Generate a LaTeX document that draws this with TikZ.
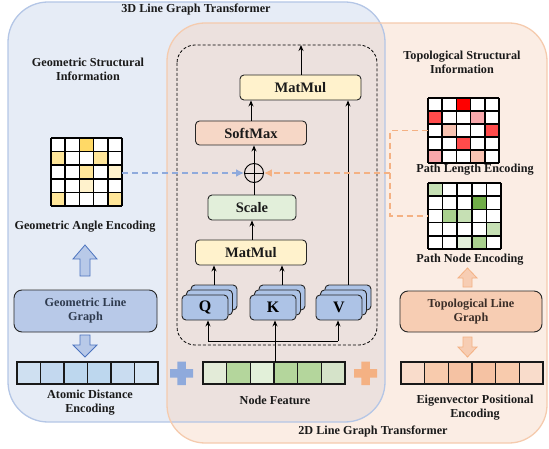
\documentclass[tikz,border=0pt]{standalone}
\usepackage{fontspec}
\setmainfont{Liberation Serif}
\usetikzlibrary{arrows.meta}
\definecolor{bluebg}{HTML}{E6ECF6}
\definecolor{orangebg}{HTML}{FBEDE4}
\definecolor{mixbg}{HTML}{ECE1DE}
\definecolor{blueedge}{HTML}{B4C6E6}
\definecolor{orangeedge}{HTML}{F5CBAE}
\definecolor{qkvfill}{HTML}{ADC3E6}
\definecolor{yel}{HTML}{FFF2CC}
\definecolor{soft}{HTML}{F6D7C6}
\definecolor{scalef}{HTML}{E2EFDA}
\definecolor{bdash}{HTML}{8FAADC}
\definecolor{odash}{HTML}{F4B183}
\definecolor{glgfill}{HTML}{B8C9E8}
\definecolor{tlgfill}{HTML}{F7CDB3}
\definecolor{txt}{HTML}{1A1A1A}
\definecolor{darkblue}{HTML}{4A72BE}
\definecolor{glgtxt}{HTML}{2F3B4F}
\definecolor{tlgtxt}{HTML}{3B2E28}
\definecolor{nfa}{HTML}{E3EBD8}
\definecolor{nfb}{HTML}{B4D69C}
\definecolor{nfc}{HTML}{E2F0D9}
\definecolor{nfd}{HTML}{D5E3C9}
\definecolor{gga}{HTML}{FFD966}
\definecolor{ggb}{HTML}{FFE699}
\definecolor{ggc}{HTML}{FFF2CC}
\definecolor{ada}{HTML}{CFE0F1}
\definecolor{adb}{HTML}{C3D8EF}
\definecolor{adc}{HTML}{BDD7EE}
\definecolor{add}{HTML}{C9DCF0}
\definecolor{ade}{HTML}{D5E4F3}
\definecolor{pla}{HTML}{FF0000}
\definecolor{plb}{HTML}{FF4B4B}
\definecolor{plc}{HTML}{F8A7AB}
\definecolor{pld}{HTML}{F8C3B2}
\definecolor{pna}{HTML}{C6E0B4}
\definecolor{pnb}{HTML}{70AD47}
\definecolor{pnc}{HTML}{A9D18E}
\definecolor{pnd}{HTML}{E2EFDA}
\definecolor{eva}{HTML}{F9DCCB}
\definecolor{evb}{HTML}{F8CBAD}
\definecolor{evc}{HTML}{F5C2A3}
\newcommand{\mygrid}[6]{%
  \fill[white] (#1,#2) rectangle ++(5*#3,5*#4);
  \foreach \r/\c/\cc in {#6} {\fill[fill=\cc] ({#1+(\c-1)*#3},{#2+(\r-1)*#4}) rectangle ++(#3,#4);}
  \foreach \i in {0,...,5} {\draw[gridline] ({#1+\i*#3},#2) -- ++(0,5*#4); \draw[gridline] (#1,{#2+\i*#4}) -- ++(5*#3,0);}
  \node[inner sep=0pt, minimum width=5*#3, minimum height=5*#4, anchor=north west] (#5) at (#1,#2) {};
}
\newcommand{\mybar}[6]{%
  \foreach \cc [count=\i from 0] in {#6} {\draw[barcell, fill=\cc] ({#1+\i*#3},#2) rectangle ++(#3,#4);}
  \node[inner sep=0pt, minimum width=6*#3, minimum height=#4, anchor=north west] (#5) at (#1,#2) {};
}
\newcommand{\qkvstack}[4]{%
  \draw[qkvbox] ({#2-23+9},{#3-12.5-10}) rectangle ++(46,25);
  \draw[qkvbox] ({#2-23+4.5},{#3-12.5-5}) rectangle ++(46,25);
  \node[qkvbox, minimum width=46, minimum height=25, font=\bfseries\fontsize{16}{18}\selectfont] (#1) at (#2,#3) {#4};
  \coordinate (#1top) at ({#2+9},{#3-22.5});
}
\tikzset{
  gridline/.style={black, line width=1.7pt},
  barcell/.style={draw=black!90, line width=1.4pt},
  qkvbox/.style={draw=black!85, fill=qkvfill, line width=0.9pt, rounded corners=4pt, inner sep=0pt},
  opbox/.style={draw=black!85, line width=0.9pt, rounded corners=4pt, inner sep=0pt, minimum height=25, font=\bfseries\fontsize{14.5}{16}\selectfont, text=txt},
  lbl/.style={font=\bfseries\fontsize{12.2}{14}\selectfont, align=center, text=txt, inner sep=0pt},
  arr/.style={-{Stealth[length=6pt,width=5pt]}, line width=0.9pt, black},
  bluebarrow/.style={fill=glgfill, draw=darkblue, line width=0.8pt},
  orgbarrow/.style={fill=tlgfill, draw=odash, line width=0.8pt},
}
\begin{document}
\begin{tikzpicture}[x=1pt,y=-1pt]
\useasboundingbox (0,0) rectangle (549,449);
% regions
\fill[bluebg] (8,2) [rounded corners=40pt] rectangle (385,422);
\fill[orangebg] (167,23) [rounded corners=38pt] rectangle (547,443);
\begin{scope}
\clip (8,2) [rounded corners=40pt] rectangle (385,422);
\fill[mixbg] (167,23) [rounded corners=38pt] rectangle (547,443);
\end{scope}
\draw[blueedge, line width=1.3pt] (8,2) [rounded corners=40pt] rectangle (385,422);
\draw[orangeedge, line width=1.3pt] (167,23) [rounded corners=38pt] rectangle (547,443);
% titles
\node[lbl] (t3d) at (196,10) {3D Line Graph Transformer};
\node[lbl] (t2d) at (373,432) {2D Line Graph Transformer};
% dashed attention box
\draw[black, line width=0.8pt, dash pattern=on 3pt off 2pt] (177,45) [rounded corners=18pt] rectangle (377,345);
\coordinate (dtop) at (301,45);
% operation boxes
\node[opbox, fill=yel, minimum width=121] (mm1) at (300.5,87.5) {MatMul};
\node[opbox, fill=soft, minimum width=111, minimum height=24] (sm) at (251,133) {SoftMax};
\node[draw=black, line width=0.9pt, circle, minimum size=19, inner sep=0pt] (ox) at (254,173) {};
\draw[line width=0.9pt] (ox.north) -- (ox.south) (ox.west) -- (ox.east);
\node[opbox, fill=scalef, minimum width=88] (sc) at (252,207.5) {Scale};
\node[opbox, fill=yel, minimum width=111] (mm2) at (251,252.5) {MatMul};
% QKV
\qkvstack{q}{205}{307.5}{Q}
\qkvstack{k}{273}{307.5}{K}
\qkvstack{v}{339}{307.5}{V}
% arrows inside
\draw[arr] (mm1.north -| dtop) -- (dtop);
\draw[arr] (sm.north) -- (sm.north |- mm1.south);
\draw[arr] (ox.north) -- (ox.north |- sm.south);
\draw[line width=0.9pt] (sc.north -| ox.south) -- (ox.south);
\draw[arr] (mm2.north -| sc.south) -- (sc.south);
\draw[arr] (qtop) -- (qtop |- mm2.south);
\draw[arr] (ktop) -- (ktop |- mm2.south);
\draw[arr] (vtop) -- (vtop |- mm1.south);
% node feature bar
\mybar{203}{362}{23.67}{22}{nf}{nfa,nfb,nfc,nfb,nfb,nfd}
\coordinate (split) at (275,341);
\coordinate (qin) at (208,341);
\coordinate (vin) at (338,341);
\draw[line width=0.9pt] (nf.north -| split) -- (split);
\draw[line width=0.9pt] (qin) -- (vin);
\draw[arr] (qin) -- (qin |- q.south);
\draw[arr] (split) -- (split |- k.south);
\draw[arr] (vin) -- (vin |- v.south);
\node[lbl] (nflbl) at (275,400) {Node Feature};
% plus signs
\fill[bdash] (170,369) rectangle (193,377.5) (177.25,361.5) rectangle (185.75,385);
\fill[odash] (354,369) rectangle (377,377.5) (361.25,361.5) rectangle (369.75,385);
% left side
\node[lbl] (gsi) at (88,69) {Geometric Structural\\Information};
\mygrid{51}{138}{14.2}{13.6}{gg}{1/3/gga,2/1/ggb,2/4/ggb,3/3/ggb,3/5/ggc,4/3/ggc,5/1/ggb,5/5/ggb}
\draw[bdash, line width=1.6pt, dash pattern=on 6pt off 4pt, -{Latex[length=8pt,width=8pt]}] (gg.east |- ox.west) -- (ox.west);
\node[lbl] (gae) at (85,227) {Geometric Angle Encoding};
\draw[bluebarrow] (85,245) -- (97,259) -- (90,259) -- (90,276) -- (80,276) -- (80,259) -- (73,259) -- cycle;
\node[draw=black!85, line width=0.9pt, rounded corners=8pt, fill=glgfill, minimum width=143, minimum height=42, lbl, text=glgtxt] (glg) at (85.5,311) {Geometric Line\\Graph};
\draw[bluebarrow] (80,335) -- (90,335) -- (90,345) -- (97,345) -- (85,357) -- (73,345) -- (80,345) -- cycle;
\mybar{17}{362}{23.5}{22}{ad}{ada,adb,adc,adc,add,ade}
\node[lbl] (adl) at (90,403) {Atomic Distance\\Encoding};
% right side
\node[lbl] (tsi) at (462,62) {Topological Structural\\Information};
\mygrid{428}{98}{14.2}{13}{pl}{1/3/pla,2/1/plb,2/4/plc,3/2/pld,3/5/plb,4/3/plb,5/1/plc,5/4/pld}
\node[lbl] (pll) at (475,170) {Path Length Encoding};
\mygrid{428}{183}{14.6}{13.2}{pn}{1/1/pna,2/4/pnb,3/2/pnc,3/3/pna,4/5/pna,5/3/pnd,5/4/pnc}
\node[lbl] (pnl) at (470,260) {Path Node Encoding};
\coordinate (oj) at (390,173);
\draw[odash, line width=1.6pt, dash pattern=on 6pt off 4pt] (pl.west) -- (oj |- pl.west) -- (oj |- pn.west) -- (pn.west);
\draw[odash, line width=1.6pt, dash pattern=on 6pt off 4pt, -{Latex[length=8pt,width=8pt]}] (oj) -- (ox.east);
\draw[orgbarrow] (467.5,268) -- (477,278) -- (472,278) -- (472,287) -- (463,287) -- (463,278) -- (458,278) -- cycle;
\node[draw=black!85, line width=0.9pt, rounded corners=8pt, fill=tlgfill, minimum width=142, minimum height=41, lbl, text=tlgtxt] (tlg) at (471,311.5) {Topological Line\\Graph};
\draw[orgbarrow] (463,337) -- (472,337) -- (472,347) -- (477,347) -- (467.5,357) -- (458,347) -- (463,347) -- cycle;
\mybar{401}{362}{23.67}{22}{ev}{eva,evb,evc,evc,evb,eva}
\node[lbl] (evl) at (475,408) {Eigenvector Positional\\Encoding};
\end{tikzpicture}
\end{document}
